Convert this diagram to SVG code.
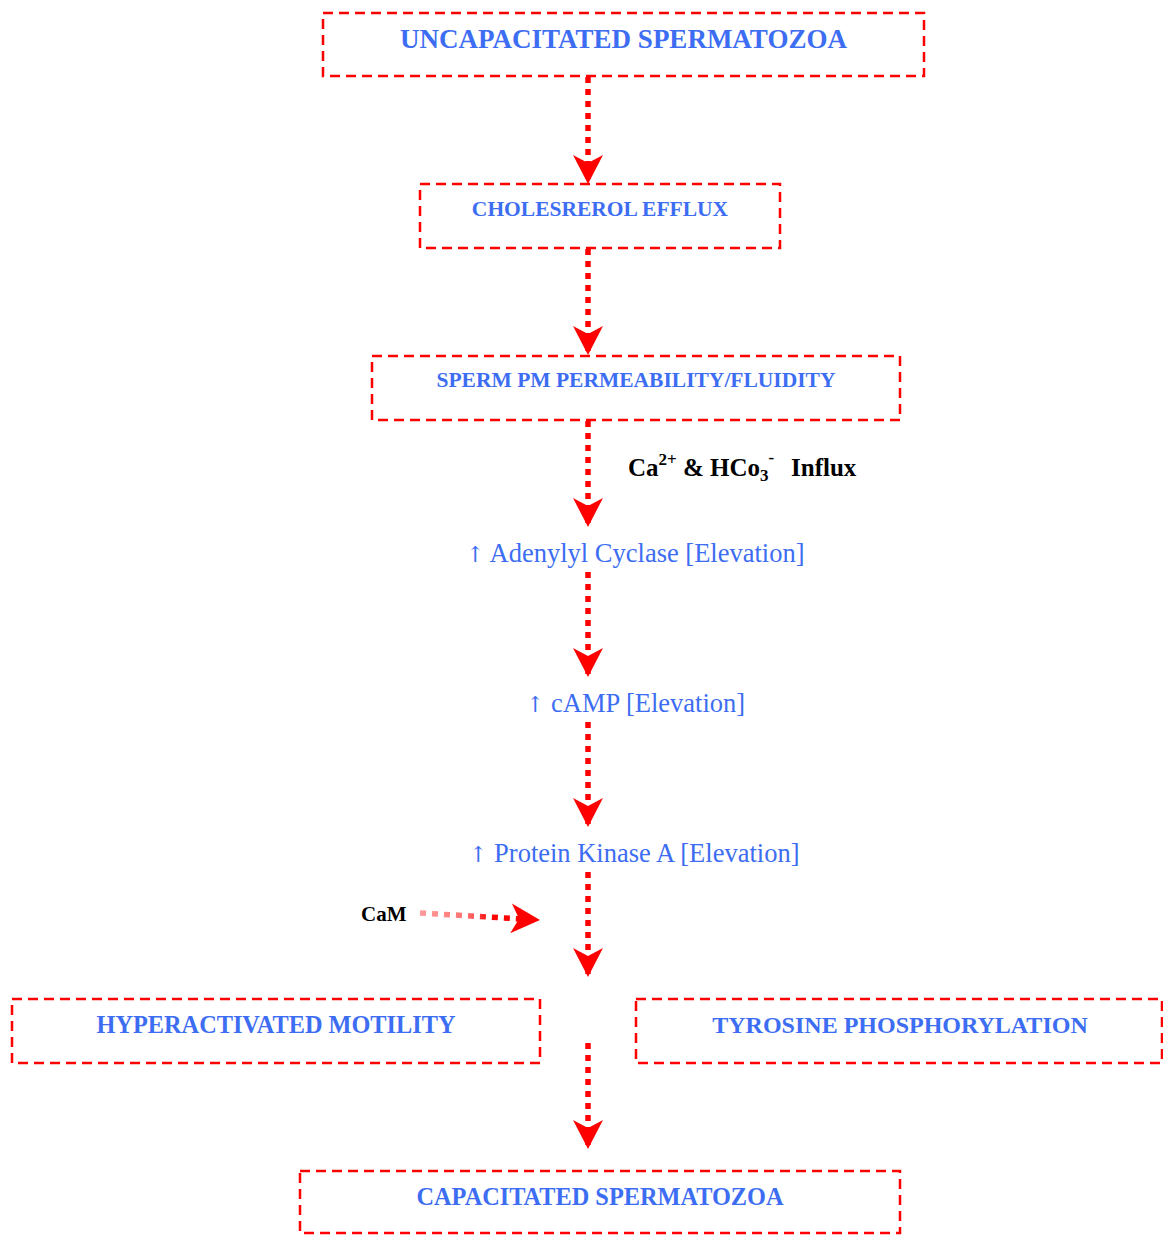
<svg xmlns="http://www.w3.org/2000/svg" width="1163" height="1235" viewBox="0 0 1163 1235">
<style>
.box{fill:none;stroke:#ff0000;stroke-width:2.5;stroke-dasharray:10 6}
.bt{font-family:"Liberation Serif","Times New Roman",serif;font-weight:bold;fill:#3d6df2;text-anchor:middle}
.lt{font-family:"Liberation Serif","Times New Roman",serif;fill:#3d6df2;font-size:26.5px}
.ar{font-family:"DejaVu Serif","Liberation Serif",serif;font-size:22px}
.kt{font-family:"Liberation Serif","Times New Roman",serif;font-weight:bold;fill:#000}
.conn{fill:none;stroke:#ff0000;stroke-width:5.5;stroke-dasharray:6 6;marker-end:url(#ah)}
</style>
<defs>
<marker id="ah" markerUnits="userSpaceOnUse" markerWidth="30" markerHeight="30" viewBox="0 0 30 30" refX="29" refY="15" orient="auto">
<path d="M30,15 L1,0 L9,15 L1,30 Z" fill="#ff0000"/>
</marker>
<linearGradient id="camg" gradientUnits="userSpaceOnUse" x1="420" y1="0" x2="515" y2="0">
<stop offset="0" stop-color="#ff9a9a"/>
<stop offset="0.5" stop-color="#ff7070"/>
<stop offset="0.75" stop-color="#ff0000"/>
</linearGradient>
</defs>
<rect width="1163" height="1235" fill="#fff"/>

<g id="connectors">
<path class="conn" d="M588,77 V183"/>
<path class="conn" d="M588,249 V354"/>
<path class="conn" d="M588,421 V526"/>
<path class="conn" d="M588,572 V676"/>
<path class="conn" d="M588,722 V826"/>
<path class="conn" d="M588,872 V976"/>
<path class="conn" d="M588,1043 V1148"/>
<path d="M420,913 L539,920" fill="none" stroke="url(#camg)" stroke-width="5.5" stroke-dasharray="6 6" marker-end="url(#ah)"/>
</g>

<g id="n-uncap">
<rect class="box" x="323" y="13" width="601" height="63"/>
<text class="bt" x="623.5" y="48" font-size="27">UNCAPACITATED SPERMATOZOA</text>
</g>
<g id="n-chol">
<rect class="box" x="420" y="184" width="360" height="64"/>
<text class="bt" x="600" y="216" font-size="21.5">CHOLESREROL EFFLUX</text>
</g>
<g id="n-sperm">
<rect class="box" x="372" y="356" width="528" height="64"/>
<text class="bt" x="636" y="387" font-size="21.5">SPERM PM PERMEABILITY/FLUIDITY</text>
</g>
<g id="l-influx">
<text class="kt" x="628" y="476" font-size="25">Ca<tspan font-size="17" dy="-11">2+</tspan><tspan dy="11"> &amp; HCo</tspan><tspan font-size="17" dy="5">3</tspan><tspan font-size="17" dy="-18">-</tspan><tspan dy="13" x="791">Influx</tspan></text>
</g>
<g id="n-adenylyl">
<text class="lt" x="466" y="562"><tspan class="ar">↑</tspan> Adenylyl Cyclase [Elevation]</text>
</g>
<g id="n-camp">
<text class="lt" x="526" y="712"><tspan class="ar">↑</tspan> cAMP [Elevation]</text>
</g>
<g id="n-pka">
<text class="lt" x="469" y="862"><tspan class="ar">↑</tspan> Protein Kinase A [Elevation]</text>
</g>
<g id="l-cam">
<text class="kt" x="361" y="921" font-size="21">CaM</text>
</g>
<g id="n-hyper">
<rect class="box" x="12" y="999" width="528" height="64"/>
<text class="bt" x="276" y="1033" font-size="24.3">HYPERACTIVATED MOTILITY</text>
</g>
<g id="n-tyro">
<rect class="box" x="636" y="999" width="526" height="64"/>
<text class="bt" x="900" y="1033" font-size="24">TYROSINE PHOSPHORYLATION</text>
</g>
<g id="n-capac">
<rect class="box" x="300" y="1171" width="600" height="62"/>
<text class="bt" x="600" y="1205" font-size="24.3">CAPACITATED SPERMATOZOA</text>
</g>
</svg>
